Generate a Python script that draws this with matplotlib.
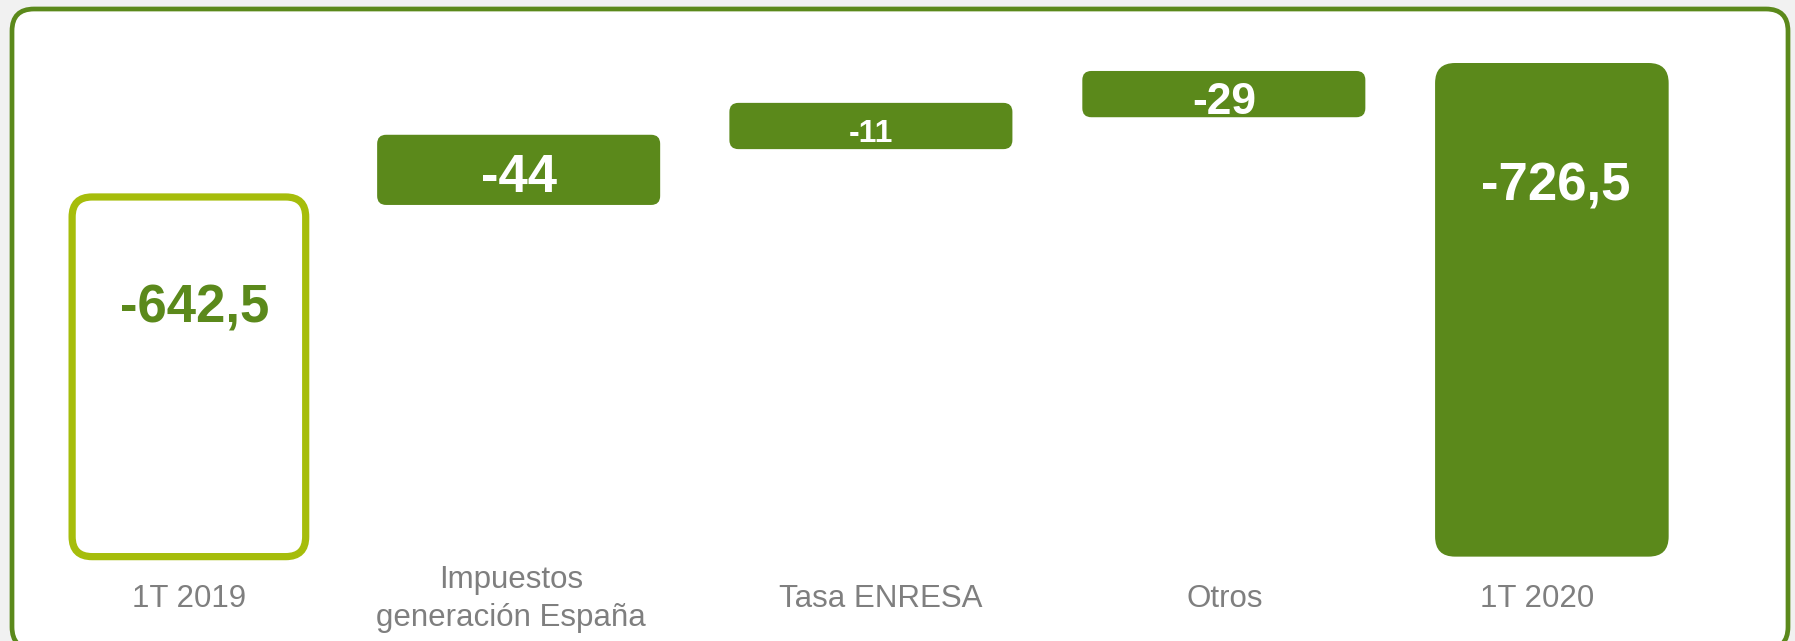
import matplotlib
matplotlib.use('Agg')
import matplotlib.pyplot as plt
from matplotlib.patches import FancyBboxPatch
from matplotlib.transforms import blended_transform_factory
from matplotlib import font_manager

# ---------------- data ----------------
categories = ['1T 2019', 'Impuestos\ngeneración España', 'Tasa ENRESA', 'Otros', '1T 2020']
start_value = -642.5
changes = [-44, -11, -29]
end_value = -726.5
value_labels = ['-642,5', '-44', '-11', '-29', '-726,5']

# ---------------- style ----------------
W, H, DPI = 1795, 641, 100
GREEN = '#5b891b'
LIME = '#a6bd0b'
GREY = '#7f7f7f'

bar_x = [0.0, 0.967, 2.0, 3.035, 3.997]      # slot positions (layout)
label_dx = [0.0, -0.023, 0.03, 0.003, -0.042]  # small label offsets (layout)

names = {f.name for f in font_manager.fontManager.ttflist}
if 'Liberation Sans Narrow' in names:
    VFONT, VSCALE = 'Liberation Sans Narrow', 1.12
else:
    VFONT, VSCALE = 'Liberation Sans', 1.0
LFONT = 'Liberation Sans'

fig = plt.figure(figsize=(W / DPI, H / DPI), dpi=DPI)
fig.patch.set_facecolor('#f1f1f1')

# background frame (pixel coordinates)
bg = fig.add_axes([0, 0, 1, 1])
bg.set_xlim(0, W)
bg.set_ylim(H, 0)
bg.axis('off')
bg.add_patch(FancyBboxPatch((12, 9), 1776, 640,
                            boxstyle='round,pad=0,rounding_size=22',
                            fc='white', ec=GREEN, lw=3.4))

# main axes (truncated value axis, magnitudes upward)
ax = fig.add_axes([0, 0, 1, 1])
ax.set_facecolor('none')
ax.axis('off')
x_lo, x_hi = -0.554, 4.71
axis_floor = 417.0
y_lo, y_hi = 364.1, 766.0
ax.set_xlim(x_lo, x_hi)
ax.set_ylim(y_lo, y_hi)

xu_per_px = (x_hi - x_lo) / W
yu_per_px = (y_hi - y_lo) / H
aspect = yu_per_px / xu_per_px

total_w = 0.685
step_w = 0.83
min_step = 29.0
step_drop = 5.0


def rbar(x, bottom, top, width, radius_px, **kw):
    p = FancyBboxPatch((x - width / 2, bottom), width, top - bottom,
                       boxstyle=f'round,pad=0,rounding_size={radius_px * xu_per_px}',
                       mutation_aspect=aspect, **kw)
    ax.add_patch(p)
    return p


# cumulative magnitudes
levels = [-start_value]
for c in changes:
    levels.append(levels[-1] - c)

# first total (outlined)
rbar(bar_x[0], axis_floor, -start_value, total_w, 20, fc='white', ec=LIME, lw=5.2, zorder=3)
ax.annotate(value_labels[0], (bar_x[0], -start_value), xytext=(4, -80), textcoords='offset points',
            ha='center', va='center', color=GREEN, fontsize=38 * VSCALE,
            fontweight='bold', family=VFONT, zorder=5)

# steps
for i, c in enumerate(changes, start=1):
    b, t = levels[i - 1], levels[i]
    mid = (b + t) / 2 - step_drop
    h = max(t - b, min_step)
    b2, t2 = mid - h / 2, mid + h / 2
    rbar(bar_x[i], b2, t2, step_w, 9, fc=GREEN, ec='none', zorder=3)
    fs = {1: 38, 2: 23, 3: 32}[i]
    ax.annotate(value_labels[i], (bar_x[i], mid), xytext=(0, -6), textcoords='offset points',
                ha='center', va='center', color='white', fontsize=fs * VSCALE,
                fontweight='bold', family=VFONT, zorder=5)

# final total
rbar(bar_x[4], axis_floor, -end_value, total_w, 20, fc=GREEN, ec='none', zorder=3)
ax.annotate(value_labels[4], (bar_x[4], -end_value), xytext=(3, -89), textcoords='offset points',
            ha='center', va='center', color='white', fontsize=38 * VSCALE,
            fontweight='bold', family=VFONT, zorder=5)

# category labels
tr = blended_transform_factory(ax.transData, ax.transAxes)
for i, lab in enumerate(categories):
    ax.text(bar_x[i] + label_dx[i], (H - 599) / H, lab, transform=tr, ha='center', va='center',
            color=GREY, fontsize=22.5, family=LFONT, linespacing=1.38)

fig.savefig('out.png', dpi=DPI, facecolor=fig.get_facecolor())
